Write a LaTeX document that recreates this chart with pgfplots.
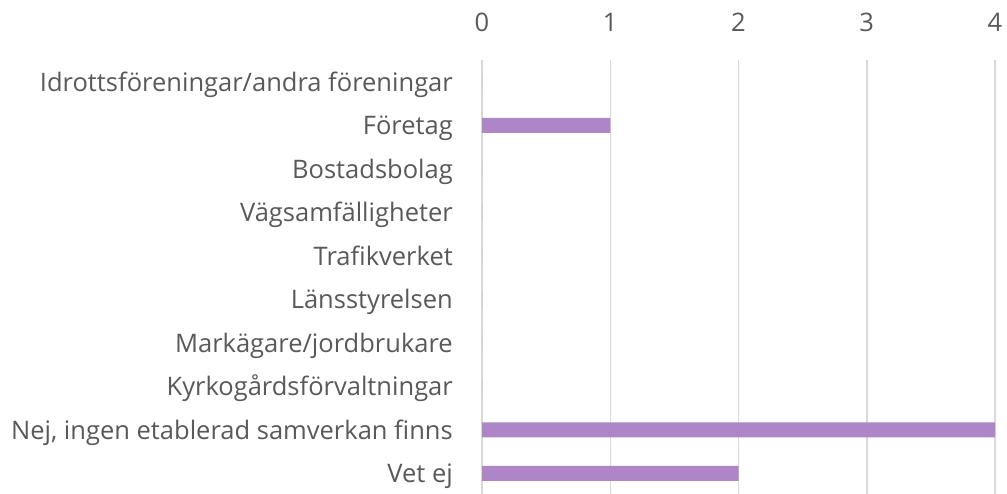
\documentclass[border=0pt]{standalone}
\usepackage{pgfplots}
\pgfplotsset{compat=1.18}
\usepackage{fontspec}
\setmainfont{Open Sans}
\definecolor{barc}{HTML}{AE85C6}
\definecolor{gridc}{HTML}{D9D9D9}
\definecolor{txt}{HTML}{595959}
\begin{document}
\begin{tikzpicture}
\begin{axis}[
  at={(482bp,-1bp)}, anchor=south west,
  scale only axis, width=513bp, height=435bp,
  xbar, bar width=15bp,
  xmin=0, xmax=4, ymin=-0.5, ymax=9.5,
  y dir=reverse,
  xtick={0,1,2,3,4}, xticklabel pos=top,
  ytick={0,1,2,3,4,5,6,7,8,9},
  yticklabels={Idrottsföreningar/andra föreningar, Företag, Bostadsbolag, Vägsamfälligheter, Trafikverket, Länsstyrelsen, Markägare/jordbrukare, Kyrkogårdsförvaltningar, {Nej, ingen etablerad samverkan finns}, Vet ej},
  axis line style={draw=none},
  major tick length=0pt,
  xmajorgrids, grid style={gridc, line width=1.5bp},
  tick label style={font=\fontsize{25.5bp}{30bp}\selectfont, text=txt},
  xticklabel style={anchor=base, yshift=29bp, inner sep=0pt},
  yticklabel style={anchor=base east, xshift=-29bp, yshift=-9.5bp, inner sep=0pt},
  /pgf/number format/assume math mode=true,
  clip=false,
]
\addplot[fill=barc, draw=none] coordinates {(0,0) (1,1) (0,2) (0,3) (0,4) (0,5) (0,6) (0,7) (4,8) (2,9)};
\end{axis}
\pgfresetboundingbox
\path[use as bounding box] (0,0) rectangle (1007bp,494bp);
\end{tikzpicture}
\end{document}
